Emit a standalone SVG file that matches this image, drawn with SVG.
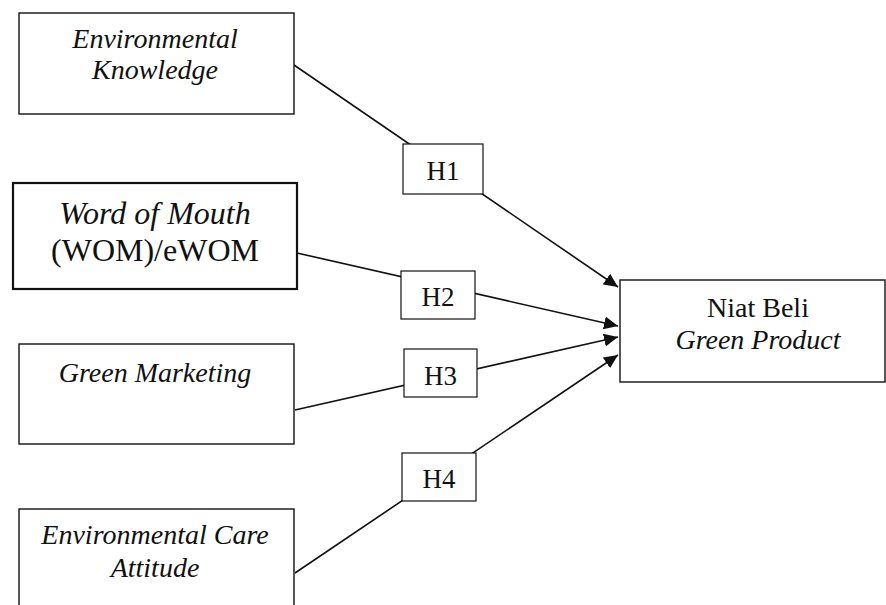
<svg xmlns="http://www.w3.org/2000/svg" width="886" height="605" viewBox="0 0 886 605">
<style>
.box{fill:#fff;stroke:#111;stroke-width:1.4}
.thick{stroke-width:2.2}
.hbox{fill:#fff;stroke:#111;stroke-width:1.2}
.t{font-family:"Liberation Serif","Times New Roman",serif;font-size:28px;fill:#111;text-anchor:middle}
.i{font-style:italic}
.w{font-size:32px}
.h{font-size:27px}
.c{stroke:#111;stroke-width:1.6;fill:none;marker-end:url(#arr)}
</style>
<defs>
<marker id="arr" markerUnits="userSpaceOnUse" markerWidth="14" markerHeight="13" refX="14" refY="6.5" orient="auto">
<path d="M0,0 L14,6.5 L0,13 z" fill="#111"/>
</marker>
</defs>
<rect width="886" height="605" fill="#fff"/>
<g id="connectors">
<line class="c" x1="294" y1="65" x2="618" y2="287"/>
<line class="c" x1="297" y1="253" x2="618" y2="326"/>
<line class="c" x1="295" y1="410" x2="618" y2="337"/>
<line class="c" x1="295" y1="573" x2="618" y2="355"/>
</g>
<g id="ek">
<rect class="box" x="19" y="13" width="275" height="101"/>
<text class="t i" x="155" y="48">Environmental</text>
<text class="t i" x="155" y="79">Knowledge</text>
</g>
<g id="wom">
<rect class="box thick" x="13" y="183" width="284" height="106"/>
<text class="t i w" x="155" y="224">Word of Mouth</text>
<text class="t w" x="155" y="261">(WOM)/eWOM</text>
</g>
<g id="gm">
<rect class="box" x="19" y="344" width="275" height="100"/>
<text class="t i" x="155" y="382">Green Marketing</text>
</g>
<g id="eca">
<rect class="box" x="19" y="509" width="275" height="110"/>
<text class="t i" x="155" y="544">Environmental Care</text>
<text class="t i" x="155" y="577">Attitude</text>
</g>
<g id="nb">
<rect class="box" x="620" y="280" width="265" height="102"/>
<text class="t" x="758" y="317">Niat Beli</text>
<text class="t i" x="758" y="349">Green Product</text>
</g>
<g id="h1">
<rect class="hbox" x="403" y="144" width="80" height="50"/>
<text class="t h" x="443" y="180">H1</text>
</g>
<g id="h2">
<rect class="hbox" x="401" y="271" width="74" height="48"/>
<text class="t h" x="438" y="306">H2</text>
</g>
<g id="h3">
<rect class="hbox" x="404" y="349" width="73" height="48"/>
<text class="t h" x="440.5" y="385">H3</text>
</g>
<g id="h4">
<rect class="hbox" x="402" y="453" width="74" height="48"/>
<text class="t h" x="439" y="488">H4</text>
</g>
</svg>
